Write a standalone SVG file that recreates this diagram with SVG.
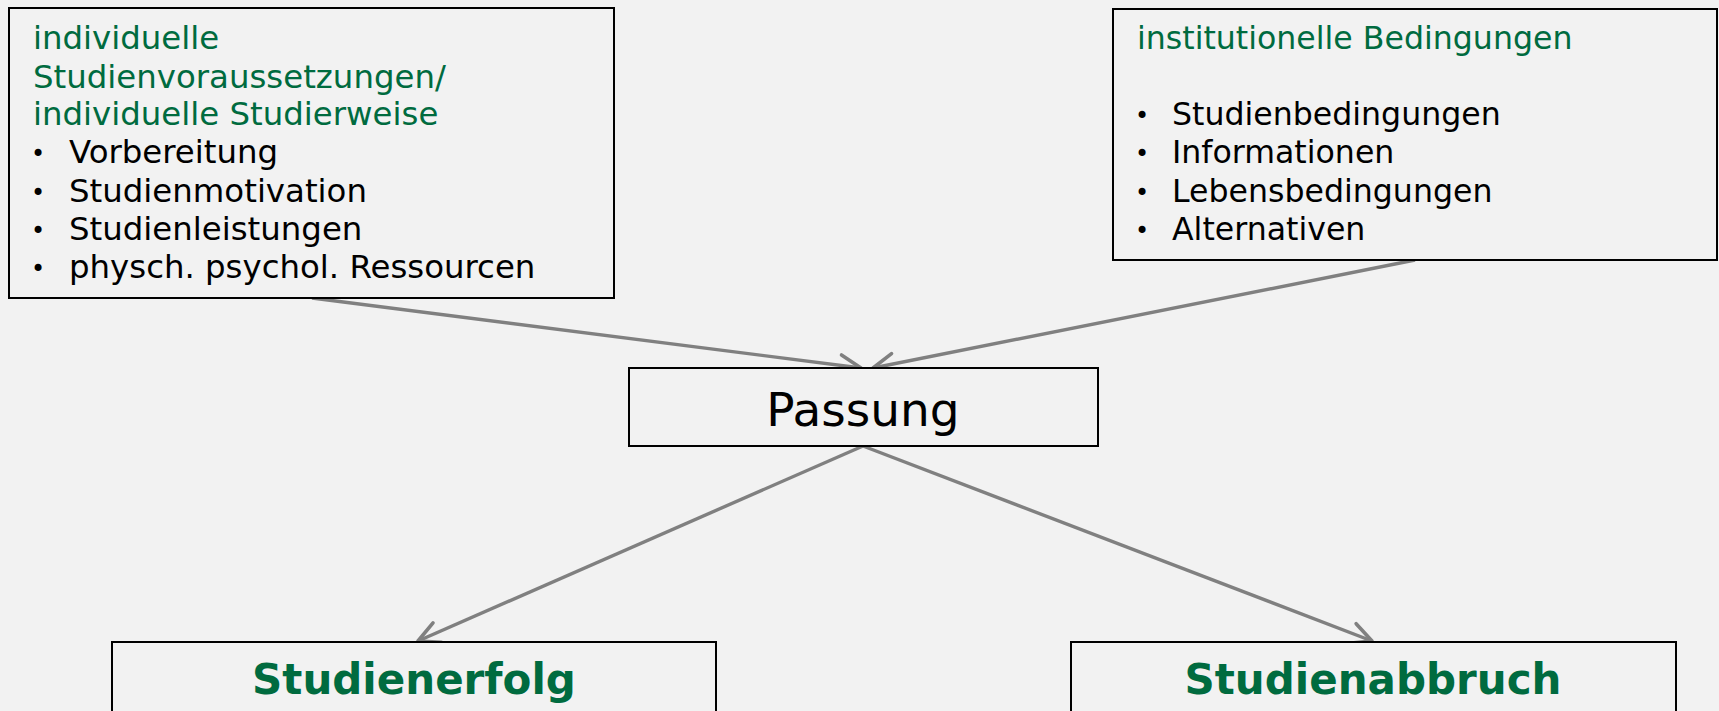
<svg xmlns="http://www.w3.org/2000/svg" width="1719" height="711" viewBox="0 0 1719 711">
<style>
.box{fill:#F2F2F2;stroke:#000;stroke-width:2}
.t{font-family:"DejaVu Sans",Verdana,sans-serif;font-size:31.6px;fill:#000}
.l{font-size:32.4px}
.g{fill:#006B3F}
.d{font-family:"DejaVu Sans",Verdana,sans-serif;font-size:24px;fill:#000}
.b{font-family:"DejaVu Sans",Verdana,sans-serif;font-weight:bold;font-size:42px;fill:#006B3F;text-anchor:middle}
.p{font-family:"DejaVu Sans",Verdana,sans-serif;font-size:47px;fill:#000;text-anchor:middle}
.c{stroke:#808080;stroke-width:3.4;fill:none;marker-end:url(#ah)}
</style>
<defs>
<marker id="ah" viewBox="-26 -14 28 28" refX="0" refY="0" markerUnits="userSpaceOnUse" markerWidth="28" markerHeight="28" orient="auto">
<path d="M-21,-10.5 L0,0 L-21,10.5" fill="none" stroke="#808080" stroke-width="3.6" stroke-linecap="round" stroke-linejoin="round"/>
</marker>
</defs>
<rect width="1719" height="711" fill="#F2F2F2"/>
<g id="connectors">
<line class="c" x1="312" y1="298" x2="861" y2="368"/>
<line class="c" x1="1415" y1="260" x2="873" y2="368"/>
<line class="c" x1="863" y1="446" x2="418" y2="641"/>
<line class="c" x1="863" y1="446" x2="1372" y2="641"/>
</g>
<g id="node-individuell">
<rect class="box" x="9" y="8" width="605" height="290"/>
<text class="t l g" x="33" y="49">individuelle</text>
<text class="t l g" x="33" y="88">Studienvoraussetzungen/</text>
<text class="t l g" x="33" y="125">individuelle Studierweise</text>
<text class="d" x="31" y="162">•</text><text class="t l" x="69" y="163">Vorbereitung</text>
<text class="d" x="31" y="201">•</text><text class="t l" x="69" y="202">Studienmotivation</text>
<text class="d" x="31" y="239">•</text><text class="t l" x="69" y="240">Studienleistungen</text>
<text class="d" x="31" y="277">•</text><text class="t l" x="69" y="278">physch. psychol. Ressourcen</text>
</g>
<g id="node-institutionell">
<rect class="box" x="1113" y="9" width="604" height="251"/>
<text class="t g" x="1137" y="49">institutionelle Bedingungen</text>
<text class="d" x="1135" y="124">•</text><text class="t" x="1172" y="125">Studienbedingungen</text>
<text class="d" x="1135" y="162">•</text><text class="t" x="1172" y="163">Informationen</text>
<text class="d" x="1135" y="201">•</text><text class="t" x="1172" y="202">Lebensbedingungen</text>
<text class="d" x="1135" y="239">•</text><text class="t" x="1172" y="240">Alternativen</text>
</g>
<g id="node-passung">
<rect class="box" x="629" y="368" width="469" height="78"/>
<text class="p" x="863" y="426">Passung</text>
</g>
<g id="node-erfolg">
<rect class="box" x="112" y="642" width="604" height="100"/>
<text class="b" x="414" y="694">Studienerfolg</text>
</g>
<g id="node-abbruch">
<rect class="box" x="1071" y="642" width="605" height="100"/>
<text class="b" x="1373" y="694">Studienabbruch</text>
</g>
</svg>
